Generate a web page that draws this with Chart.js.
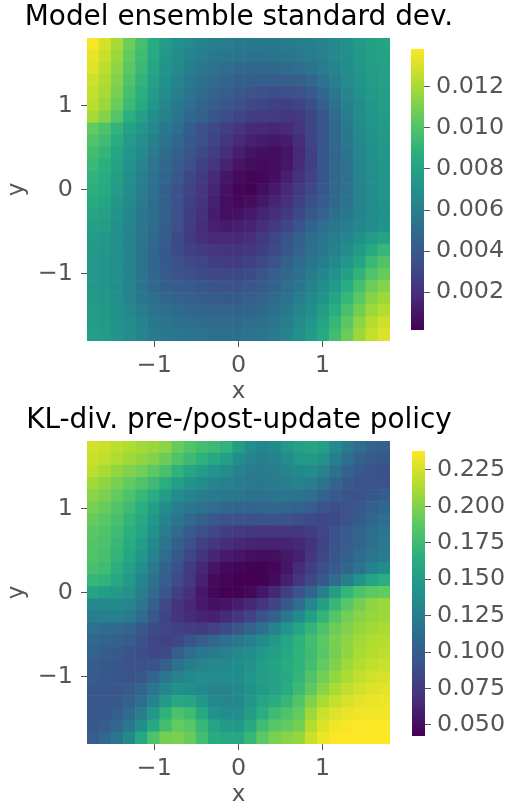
<!DOCTYPE html>
<html><head><meta charset="utf-8">
<script src="https://cdn.jsdelivr.net/npm/chart.js@4"></script>
<style>html,body{margin:0;padding:0;background:#fff;overflow:hidden;height:807px}
canvas{position:absolute}</style></head><body>
<canvas id="p1" style="left:0;top:0" width="478" height="406"></canvas>
<canvas id="c1" style="left:400px;top:0" width="117" height="403"></canvas>
<canvas id="p2" style="left:0;top:403px" width="478" height="406"></canvas>
<canvas id="c2" style="left:400px;top:403px" width="117" height="404"></canvas>
<script>
// Values. Rows run top (y = +1.8) to bottom, columns left to right.
const stdUnit = 1e-4;
const stdRows = [
[137,130,120,108,97,86,76,70,66,62,60,58,57,57,57,57,58,59,60,62,66,70,75,79,81],
[134,127,117,105,95,84,74,68,63,60,57,55,54,53,53,54,55,56,58,61,65,69,74,78,80],
[132,125,115,103,93,82,72,66,60,56,53,50,48,47,47,48,49,51,54,58,63,68,73,77,79],
[128,122,112,100,90,79,70,63,57,52,49,46,44,42,41,42,42,43,47,53,60,66,72,76,79],
[126,120,110,97,87,76,67,60,54,49,45,42,39,36,35,34,35,36,40,48,56,64,70,75,78],
[124,117,107,94,84,73,64,57,51,46,42,38,35,32,30,28,27,29,34,43,53,61,68,74,77],
[120,112,101,88,79,69,61,54,48,43,38,34,30,27,26,25,23,24,30,38,49,59,67,73,76],
[105,99,90,80,73,65,57,51,42,37,32,27,22,18,17,16,18,22,30,38,47,57,66,72,75],
[100,95,86,76,69,61,54,47,40,35,29,23,18,14,12,10,12,19,29,38,48,56,65,71,74],
[96,91,82,73,66,58,50,44,38,32,26,19,13,9,7,6,9,17,28,38,47,54,64,70,73],
[93,88,80,71,63,55,48,41,35,28,22,15,9,6,5,6,10,18,28,38,47,53,63,69,73],
[90,86,78,69,61,53,46,39,31,25,18,10,5,3,4,7,13,21,29,38,47,53,63,69,72],
[88,84,76,67,59,51,44,37,29,23,16,8,3,2,6,11,17,24,31,39,47,53,62,68,72],
[85,82,74,66,58,50,43,36,28,22,14,7,4,6,10,15,20,27,34,41,48,54,62,67,71],
[82,79,72,64,57,50,43,35,27,21,12,7,8,11,15,19,24,31,38,45,51,57,62,67,70],
[79,77,70,63,56,49,42,35,26,19,13,11,13,15,19,24,30,37,45,51,56,60,64,68,71],
[76,74,69,62,55,48,41,33,25,20,17,17,18,20,24,30,36,44,50,55,60,64,70,76,80],
[75,73,69,62,54,47,40,33,28,25,23,22,22,23,27,32,38,45,51,56,61,68,75,84,92],
[74,72,69,62,54,46,40,35,32,30,27,26,26,28,32,37,43,49,54,59,65,73,82,93,100],
[74,72,69,62,54,47,41,37,35,33,31,30,31,33,37,42,47,52,58,64,71,79,90,100,106],
[74,72,69,63,55,48,44,42,40,38,37,36,36,38,41,45,50,55,61,67,75,86,97,107,112],
[75,73,69,63,57,51,47,45,43,42,41,40,41,42,45,49,53,59,65,72,81,92,103,113,118],
[76,74,70,65,59,54,51,49,47,46,45,45,45,46,48,52,57,63,69,77,87,98,109,118,123],
[77,75,71,67,62,57,54,52,51,50,49,49,49,50,52,55,60,66,73,81,92,103,114,123,128],
[78,76,72,68,63,59,56,55,54,53,52,52,52,53,55,58,62,69,76,85,96,107,118,126,131]
];
const klUnit = 1e-3;
const klRows = [
[224,222,218,214,210,207,203,192,184,178,174,168,150,137,131,135,145,153,156,151,136,122,112,105,102],
[222,219,214,209,205,200,193,183,175,167,160,152,138,130,126,129,136,145,148,142,126,113,103,98,96],
[218,212,205,200,195,188,180,168,158,150,143,137,128,124,123,125,130,135,138,130,115,104,96,92,90],
[210,204,197,190,183,175,165,152,143,136,130,127,124,121,120,122,125,128,126,117,105,97,93,92,91],
[203,197,190,182,173,163,150,137,130,125,122,120,118,116,116,117,118,117,113,105,97,93,93,96,99],
[197,192,184,175,165,152,138,126,120,116,112,108,106,106,107,108,107,104,100,93,89,91,96,103,107],
[192,187,180,170,160,146,130,118,110,102,97,93,91,90,91,92,92,89,86,84,86,91,98,107,113],
[187,183,176,166,155,140,124,110,98,90,84,79,76,74,73,73,73,74,77,83,91,98,104,112,118],
[185,181,173,162,150,134,118,102,90,80,73,67,64,62,61,61,62,64,70,82,92,100,106,114,120],
[183,179,170,158,144,128,112,96,83,72,63,57,54,50,49,50,55,60,72,84,94,102,110,118,124],
[180,176,166,153,137,120,104,90,76,64,54,47,44,43,43,46,54,66,78,89,98,107,116,128,138],
[172,168,160,147,131,116,100,87,75,60,48,44,42,42,43,48,60,72,85,97,110,126,142,155,165],
[155,150,148,142,126,110,94,78,68,55,46,43,43,46,54,64,78,92,106,125,150,170,182,188,190],
[134,134,135,132,118,102,86,72,64,56,50,53,58,64,72,82,96,112,132,152,172,186,196,204,208],
[125,127,127,124,112,96,82,72,66,62,60,66,73,82,92,103,118,135,152,170,185,195,202,206,208],
[116,112,110,106,96,87,84,80,78,76,80,87,95,105,116,128,143,157,170,182,193,200,206,210,212],
[108,105,102,98,92,84,80,84,92,100,107,113,120,127,136,145,156,167,178,188,197,204,210,214,216],
[104,100,97,93,88,84,86,100,112,120,122,127,133,137,145,152,160,168,176,186,196,205,212,216,218],
[100,97,94,91,90,93,103,115,125,130,133,135,138,143,150,155,162,168,178,190,200,209,216,220,222],
[98,96,94,93,96,106,118,129,135,136,136,136,138,144,150,154,160,170,183,195,205,213,220,224,226],
[96,95,95,98,106,118,132,140,138,134,130,130,134,140,148,154,162,174,188,202,212,219,225,228,230],
[96,95,97,102,112,128,148,160,156,146,135,132,134,144,156,164,172,184,200,212,221,226,230,232,233],
[96,96,100,110,125,146,168,182,176,160,142,136,136,150,165,176,182,190,208,222,228,232,234,235,235],
[97,100,108,120,138,160,178,190,186,172,155,148,146,160,176,186,190,196,215,228,234,236,237,237,237],
[100,108,118,135,158,182,196,198,192,178,162,158,158,172,188,198,202,206,222,233,237,238,238,238,238]
];
const axisTicks = [-1, 0, 1];
const stdTicks = [0.002, 0.004, 0.006, 0.008, 0.010, 0.012];
const klTicks = [0.050, 0.075, 0.100, 0.125, 0.150, 0.175, 0.200, 0.225];
const stdRange = [0.00015, 0.01385];
const klRange = [0.0424, 0.238];
const axisRange = [-1.8, 1.8];
const titles = ['Model ensemble standard dev.', 'KL-div. pre-/post-update policy'];

const viridis = ['#440154','#472d7b','#3b528b','#2c728e','#21918c','#28ae80','#5ec962','#addc30','#fde725'];
const rgb = viridis.map(h => [1,3,5].map(i => parseInt(h.slice(i,i+2),16)));
function vcolor(t){
  t = Math.max(0, Math.min(1, t)) * (rgb.length - 1);
  const i = Math.min(Math.floor(t), rgb.length - 2), f = t - i;
  const c = rgb[i].map((a,k) => Math.round(a + (rgb[i+1][k]-a)*f));
  return `rgb(${c[0]},${c[1]},${c[2]})`;
}
const FONT = '"DejaVu Sans"', GREY = '#555555', TICK = 23.8, LABEL = 23, TITLE = 27.9;
const fmtAxis = v => String(v).replace('-', '\u2212');

function setTicks(list){ return s => { s.ticks = list.map(v => ({value:v})); }; }

function panel(id, rows, unit, range, title){
  const n = rows.length, span = axisRange[1]-axisRange[0];
  const pts = [];
  rows.forEach((row, r) => row.forEach((v, c) => pts.push({
    x: axisRange[0] + (c+0.5)*span/n,
    y: axisRange[1] - (r+0.5)*span/n,
    v: v*unit
  })));
  new Chart(document.getElementById(id), {
    type:'scatter',
    data:{datasets:[{
      data:pts, showLine:false, clip:0,
      pointStyle:'rect', pointBorderWidth:0,
      pointBackgroundColor: c => vcolor((c.raw.v-range[0])/(range[1]-range[0])),
      pointRadius: c => {
        const s = c.chart.scales.x;
        return ((s.right-s.left)/n + 0.6)/2/Math.SQRT1_2;
      }
    }]},
    options:{
      responsive:false, animation:false, events:[],
      plugins:{legend:{display:false},tooltip:{enabled:false},
        title:{display:true,text:title,color:'#000',
          font:{family:FONT,size:TITLE,weight:'normal',lineHeight:1.2},
          padding:{top:1,bottom:37-TITLE*1.2}}},
      scales:{
        x:{type:'linear',min:axisRange[0],max:axisRange[1],
          afterBuildTicks:setTicks(axisTicks),
          afterFit:s=>{s.height=65;},
          grid:{drawOnChartArea:false,drawTicks:true,tickLength:6,tickColor:GREY,tickWidth:1},
          border:{display:false},
          ticks:{color:GREY,font:{family:FONT,size:TICK},padding:5,maxRotation:0,callback:fmtAxis},
          title:{display:true,text:'x',color:GREY,font:{family:FONT,size:LABEL},padding:{top:0,bottom:0}}},
        y:{type:'linear',min:axisRange[0],max:axisRange[1],
          afterBuildTicks:setTicks(axisTicks),
          afterFit:s=>{s.width=87;},
          grid:{drawOnChartArea:false,drawTicks:true,tickLength:6,tickColor:GREY,tickWidth:1},
          border:{display:false},
          ticks:{color:GREY,font:{family:FONT,size:TICK},padding:8,callback:fmtAxis},
          title:{display:true,text:'y',color:GREY,font:{family:FONT,size:LABEL},padding:{top:3,bottom:0}}},
        // empty right-hand axis: reserves the colour-bar gutter so the title keeps full width
        gutter:{type:'linear',axis:'y',position:'right',
          afterFit:s=>{s.width=88;},
          grid:{display:false},border:{display:false},ticks:{display:false}}
      }
    }
  });
}

function colorbar(id, range, ticks, pad){
  new Chart(document.getElementById(id), {
    type:'bar',
    data:{labels:['scale'],datasets:[{
      data:[[range[0],range[1]]], barPercentage:1, categoryPercentage:1, borderWidth:0,
      backgroundColor:c=>{
        const a=c.chart.chartArea; if(!a) return '#000';
        const g=c.chart.ctx.createLinearGradient(0,a.bottom,0,a.top);
        viridis.forEach((h,i)=>g.addColorStop(i/(viridis.length-1),h));
        return g;
      }
    }]},
    options:{
      responsive:false, animation:false, events:[],
      layout:{padding:pad},
      plugins:{legend:{display:false},tooltip:{enabled:false}},
      scales:{
        x:{display:false},
        y:{type:'linear',position:'right',min:range[0],max:range[1],
          afterBuildTicks:setTicks(ticks),
          afterFit:s=>{s.width=pad.axis;},
          grid:{drawOnChartArea:false,drawTicks:true,tickLength:6,tickColor:GREY,tickWidth:1},
          border:{display:false},
          ticks:{color:GREY,font:{family:FONT,size:TICK},padding:6,callback:v=>v.toFixed(3)}}
      }
    }
  });
}

panel('p1', stdRows, stdUnit, stdRange, titles[0]);
panel('p2', klRows, klUnit, klRange, titles[1]);
colorbar('c1', stdRange, stdTicks, {left:11,right:0,top:49,bottom:73,axis:93});
colorbar('c2', klRange, klTicks, {left:12,right:0,top:48,bottom:71,axis:92});
</script></body></html>
